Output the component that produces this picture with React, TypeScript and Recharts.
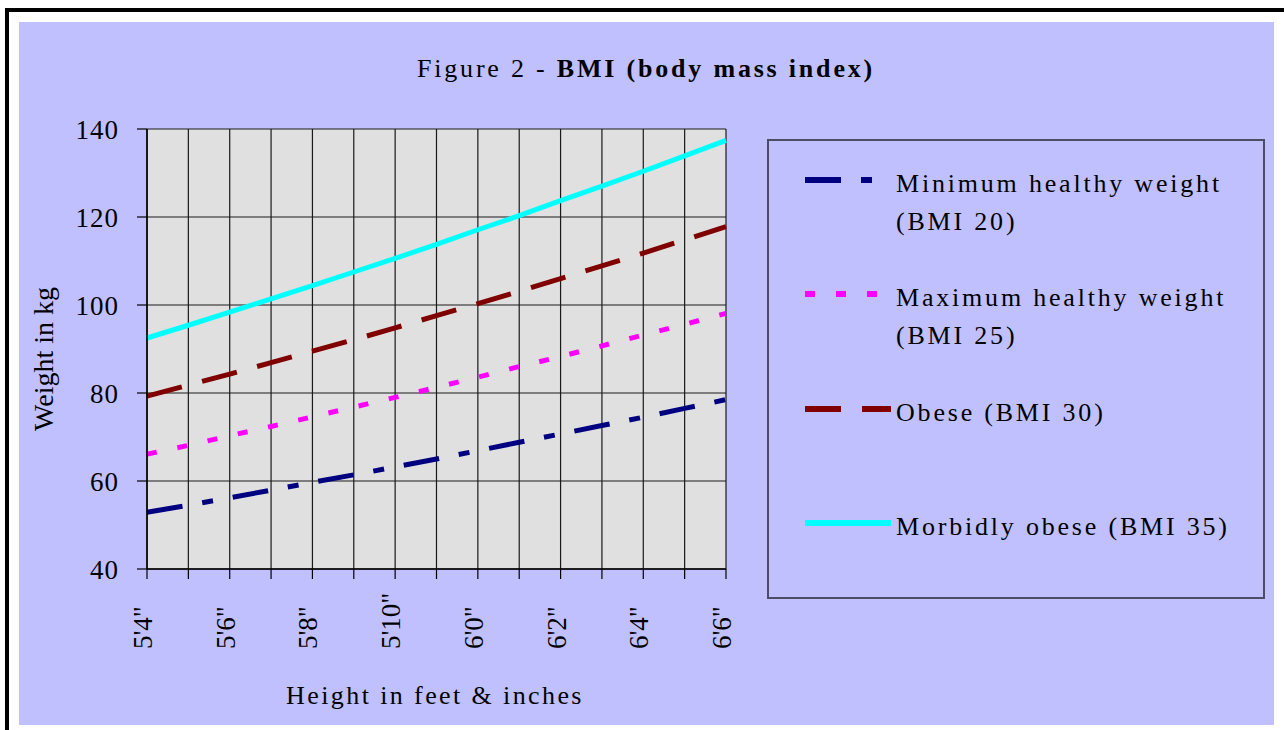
import { LineChart, Line, XAxis, YAxis, CartesianGrid, Legend } from 'recharts';

const heights = ["5'4\"", "5'5\"", "5'6\"", "5'7\"", "5'8\"", "5'9\"", "5'10\"", "5'11\"", "6'0\"", "6'1\"", "6'2\"", "6'3\"", "6'4\"", "6'5\"", "6'6\""];
const minHealthy = [52.9, 54.5, 56.2, 57.9, 59.7, 61.4, 63.2, 65.0, 66.9, 68.8, 70.7, 72.6, 74.5, 76.5, 78.5];
const maxHealthy = [66.1, 68.1, 70.3, 72.4, 74.6, 76.8, 79.0, 81.3, 83.6, 86.0, 88.3, 90.7, 93.2, 95.6, 98.1];
const obese = [79.3, 81.8, 84.3, 86.9, 89.5, 92.1, 94.8, 97.6, 100.3, 103.1, 106.0, 108.9, 111.8, 114.8, 117.8];
const morbid = [92.5, 95.4, 98.4, 101.4, 104.4, 107.5, 110.6, 113.8, 117.1, 120.3, 123.7, 127.0, 130.4, 133.9, 137.4];
const yTicks = [40, 60, 80, 100, 120, 140];

const data = heights.map((h, i) => ({
  height: h,
  min: minHealthy[i],
  max: maxHealthy[i],
  obese: obese[i],
  morbid: morbid[i],
}));

const FONT = '"Liberation Serif", "Times New Roman", serif';

const series = [
  { key: 'min', label: ['Minimum healthy weight', '(BMI 20)'], color: '#000080', dash: '36 20 11 20', width: 5 },
  { key: 'max', label: ['Maximum healthy weight', '(BMI 25)'], color: '#ff00ff', dash: '10 21', width: 5 },
  { key: 'obese', label: ['Obese (BMI 30)'], color: '#800000', dash: '36 21', width: 5 },
  { key: 'morbid', label: ['Morbidly obese (BMI 35)'], color: '#00ffff', dash: undefined, width: 5 },
];

// x tick: label only every second inch, rotated
const XTick = (props: any) => {
  const { x, y, payload, index } = props;
  if (index % 2 !== 0) return <g />;
  return (
    <text
      x={x + 5}
      y={y + 70}
      transform={`rotate(-90, ${x + 5}, ${y + 70})`}
      textAnchor="start"
      fill="#000"
      fontSize={27}
      fontFamily={FONT}
    >
      {payload.value}
    </text>
  );
};

const BmiLegend = () => {
  const tops = [24, 138, 253, 367];
  return (
    <div style={{ position: 'relative', width: '100%', height: '100%' }}>
      {series.map((s, i) => (
        <div key={s.key}>
          <svg
            width={86}
            height={10}
            style={{ position: 'absolute', left: 36, top: tops[i] + 10 }}
          >
            <line x1={0} y1={5} x2={86} y2={5} stroke={s.color} strokeWidth={6} strokeDasharray={s.dash} />
          </svg>
          <div
            style={{
              position: 'absolute',
              left: 127,
              top: tops[i],
              width: 360,
              fontFamily: FONT,
              fontSize: 26,
              lineHeight: '38px',
              letterSpacing: '2.8px',
              color: '#000',
              whiteSpace: 'nowrap',
            }}
          >
            {s.label.map((t) => (
              <div key={t}>{t}</div>
            ))}
          </div>
        </div>
      ))}
    </div>
  );
};

export default function App() {
  return (
    <div style={{ position: 'absolute', left: 0, top: 0, width: 1284, height: 730, background: '#fff', overflow: 'hidden' }}>
      <svg width={1284} height={730} style={{ position: 'absolute', left: 0, top: 0 }}>
        <rect x={5} y={8} width={1279} height={4} fill="#000" />
        <rect x={5} y={8} width={4} height={722} fill="#000" />
        <rect x={19} y={22} width={1255} height={703} fill="#c0c0ff" />
        <text x={646} y={77} textAnchor="middle" fontFamily={FONT} fontSize={26} letterSpacing={2.8} fill="#000">
          Figure 2 - <tspan fontWeight="bold">BMI (body mass index)</tspan>
        </text>
      </svg>
      <div style={{ position: 'absolute', left: 19, top: 22 }}>
        <LineChart width={1255} height={703} data={data} margin={{ top: 107, right: 548, left: 0, bottom: 0 }}>
          <CartesianGrid fill="#e0e0e0" stroke="#1a1a1a" strokeWidth={1.2} />
          <XAxis
            dataKey="height"
            interval={0}
            height={156}
            tickSize={10}
            tickMargin={0}
            axisLine={{ stroke: '#000', strokeWidth: 1.5 }}
            tickLine={{ stroke: '#000', strokeWidth: 1.2 }}
            tick={<XTick />}
            label={{
              value: 'Height in feet & inches',
              content: () => (
                <text x={416} y={682} textAnchor="middle" fontFamily={FONT} fontSize={26} letterSpacing={2.4} fill="#000">
                  Height in feet &amp; inches
                </text>
              ),
            }}
          />
          <YAxis
            type="number"
            domain={[40, 140]}
            ticks={yTicks}
            width={128}
            tickSize={10}
            tickMargin={18}
            axisLine={{ stroke: '#000', strokeWidth: 1.5 }}
            tickLine={{ stroke: '#000', strokeWidth: 1.2 }}
            tick={{ fill: '#000', fontSize: 27, fontFamily: FONT, letterSpacing: 1 }}
            label={{
              value: 'Weight in kg',
              content: () => (
                <text x={34} y={337} transform="rotate(-90, 34, 337)" textAnchor="middle" fontFamily={FONT} fontSize={28} fill="#000">
                  Weight in kg
                </text>
              ),
            }}
          />
          <Legend
            layout="vertical"
            align="center"
            verticalAlign="middle"
            content={<BmiLegend />}
            wrapperStyle={{
              left: 748,
              top: 117,
              width: 498,
              height: 460,
              border: '2px solid #4c4c66',
              boxSizing: 'border-box',
            }}
          />
          {series.map((s) => (
            <Line
              key={s.key}
              type="linear"
              dataKey={s.key}
              name={s.label.join(' ')}
              stroke={s.color}
              strokeWidth={s.width}
              strokeDasharray={s.dash}
              strokeLinecap="butt"
              dot={false}
              activeDot={false}
              isAnimationActive={false}
            />
          ))}
        </LineChart>
      </div>
    </div>
  );
}
